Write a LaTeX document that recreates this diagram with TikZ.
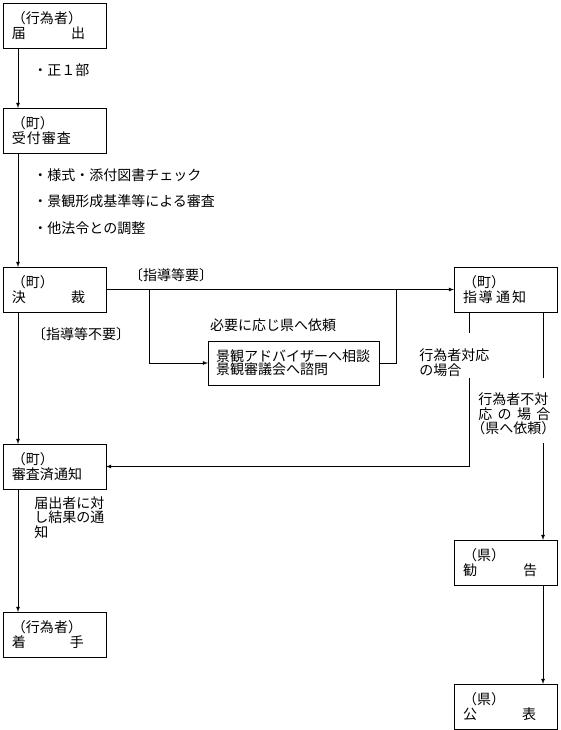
\documentclass[tikz,border=0pt]{standalone}
\usepackage{fontspec}
\newfontfamily\jpfont{Noto Sans CJK JP}
\usetikzlibrary{arrows, positioning}

\tikzset{
    flowbox/.style={draw, minimum width=103pt, minimum height=45pt, inner sep=0pt, outer sep=0pt, text width=85pt, align=left},
    note/.style={inner sep=0pt, align=left},
}

\begin{document}
\begin{tikzpicture}[>=latex, x=1pt, y=-1pt, node distance=0pt, line width=0.8pt,
    every node/.style={font=\jpfont\fontsize{14}{14.5}\selectfont}]
    \useasboundingbox (0,0) rectangle (560,730);

    % left column
    \node[flowbox, anchor=north west] (todoke) at (3,3) {（行為者）\\届\hspace{45pt}出};
    \node[flowbox, below=60pt of todoke] (juri) {（町）\\受\hspace{1pt}付\hspace{1pt}審\hspace{1pt}査};
    \node[flowbox, below=114pt of juri] (kessai) {（町）\\決\hspace{45pt}裁};
    \node[flowbox, below=132pt of kessai] (shinsa) {（町）\\審査済通知};
    \node[flowbox, below=123pt of shinsa] (chakushu) {（行為者）\\着\hspace{44pt}手};

    % right column
    \node[flowbox, right=348pt of kessai] (shido) {（町）\\指\hspace{2pt}導\hspace{3pt}通\hspace{2pt}知};
    \node[flowbox, below=228pt of shido] (kankoku) {（県）\\勧\hspace{46pt}告};
    \node[flowbox, below=99pt of kankoku] (kohyo) {（県）\\公\hspace{45pt}表};

    \node[draw, anchor=north west, minimum width=171pt, minimum height=44pt, inner sep=0pt, outer sep=0pt, text width=155pt, align=left,
        font=\jpfont\fontsize{14}{13}\selectfont] (keikan) at (208,341) {景観アドバイザーへ相談\\景観審議会へ諮問};

    % labels
    \node[note, anchor=west] (sei) at (33,70) {・正１部};
    \node[note, anchor=west] (chk1) at (33,175) {・様式・添付図書チェック};
    \node[note, anchor=west] (chk2) at (33,201) {・景観形成基準等による審査};
    \node[note, anchor=west] (chk3) at (33,228) {・他法令との調整};
    \node[note] (yo) at (171,275) {〔指導等要〕};
    \node[note] (fuyo) at (81,334) {〔指導等不要〕};
    \node[note] (irai) at (273,325) {必要に応じ県へ依頼};
    \node[note, anchor=west] (taio) at (419,362.5) {行為者対応\\の場合};
    \node[note, anchor=west] (futaio) at (478,414) {行為者不対\\\makebox[72pt][s]{応\hfill の\hfill 場\hfill 合}\\\hspace*{-7pt}（県へ依頼）};
    \node[note, anchor=west] (kekka) at (34,517.5) {届出者に対\\し結果の通\\知};

    \coordinate (colL) at (18,0);
    \coordinate (forkL) at (149,0);
    \coordinate (forkR) at (396,0);
    \coordinate (gapA) at (469,333);
    \coordinate (gapB) at (469,378);
    \coordinate (gapC) at (543,378);
    \coordinate (gapD) at (543,443);

    \draw[->] (todoke.south -| colL) -- (juri.north -| colL);
    \draw[->] (juri.south -| colL) -- (kessai.north -| colL);
    \draw[->] (kessai.south -| colL) -- (shinsa.north -| colL);
    \draw[->] (shinsa.south -| colL) -- (chakushu.north -| colL);

    \draw[->] (kessai.east) -- (shido.west);
    \draw[->] (kessai.east -| forkL) |- (keikan.west);
    \draw (keikan.east) -| (kessai.east -| forkR);

    \draw (shido.south -| gapA) -- (gapA);
    \draw[->] (gapB) |- (shinsa.east);
    \draw (shido.south -| gapC) -- (gapC);
    \draw[->] (gapD) -- (kankoku.north -| gapD);
    \draw[->] (kankoku.south -| gapD) -- (kohyo.north -| gapD);
\end{tikzpicture}
\end{document}
